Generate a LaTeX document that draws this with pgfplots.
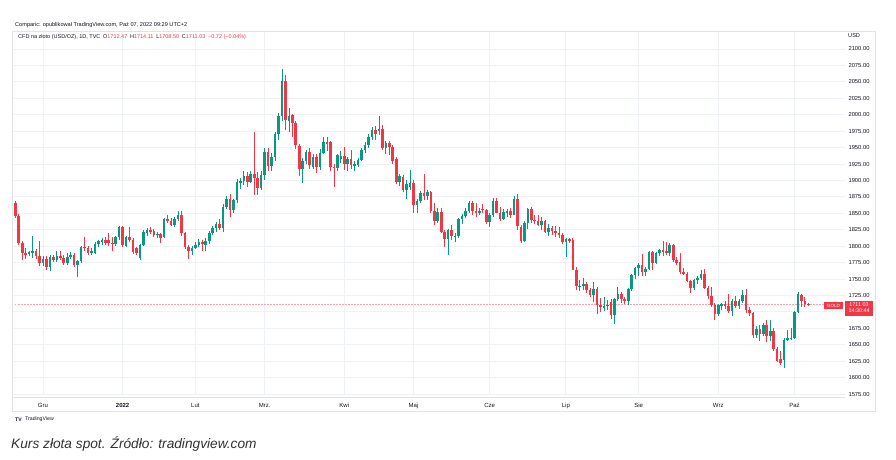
\documentclass[border=0pt]{standalone}
\usepackage{pgfplots}
\pgfplotsset{compat=1.18}
\usepackage{pgfplotstable}
\usepackage{fontspec}
\setmainfont{Liberation Sans}
\definecolor{up}{HTML}{089981}
\definecolor{down}{HTML}{F23645}
\definecolor{ink}{HTML}{131722}
\definecolor{gridc}{HTML}{EEF1F6}
\definecolor{framec}{HTML}{E0E3EB}
\definecolor{capc}{HTML}{333333}

% daily candles, TVC:GOLD, 19.11.2021 - 07.10.2022 (i = trading day)
\pgfplotstableread{
i o h l c
0 1865 1869 1843 1846
1 1846 1849 1802 1805
2 1805 1808 1779 1789
3 1789 1797 1780 1788
4 1788 1793 1785 1791
5 1789 1815 1782 1793
6 1793 1795 1781 1785
7 1785 1808 1770 1775
8 1775 1785 1770 1781
9 1781 1785 1763 1769
10 1768 1786 1762 1784
11 1784 1787 1776 1779
12 1779 1793 1776 1785
13 1785 1792 1779 1782
14 1782 1786 1772 1775
15 1775 1790 1771 1784
16 1783 1791 1780 1787
17 1787 1789 1768 1771
18 1771 1779 1753 1777
19 1777 1800 1775 1798
20 1799 1814 1792 1797
21 1797 1800 1787 1790
22 1790 1797 1786 1792
23 1790 1806 1788 1804
24 1803 1810 1799 1808
25 1807 1812 1802 1810
26 1810 1814 1802 1805
27 1810 1820 1800 1805
28 1805 1814 1792 1804
29 1804 1816 1800 1814
30 1814 1831 1810 1829
31 1829 1831 1798 1801
32 1800 1815 1798 1814
33 1814 1829 1806 1810
34 1810 1812 1788 1791
35 1797 1799 1786 1789
36 1782 1803 1779 1801
37 1801 1824 1800 1822
38 1820 1828 1815 1825
39 1825 1829 1818 1822
40 1823 1826 1814 1817
41 1817 1821 1812 1819
42 1819 1820 1805 1813
43 1814 1843 1812 1841
44 1841 1848 1835 1838
45 1839 1843 1830 1832
46 1832 1845 1829 1842
47 1842 1854 1838 1848
48 1848 1853 1815 1820
49 1820 1822 1795 1799
50 1799 1802 1780 1792
51 1792 1800 1786 1797
52 1797 1807 1795 1801
53 1801 1811 1798 1807
54 1807 1810 1792 1803
55 1802 1812 1792 1808
56 1808 1823 1803 1820
57 1820 1830 1817 1827
58 1827 1836 1822 1834
59 1834 1842 1825 1827
60 1827 1864 1822 1860
61 1860 1876 1856 1872
62 1872 1879 1845 1855
63 1855 1872 1851 1870
64 1870 1902 1866 1898
65 1897 1903 1887 1899
66 1899 1914 1893 1906
67 1906 1913 1890 1898
68 1898 1915 1896 1910
69 1910 1974 1878 1903
70 1903 1913 1878 1889
71 1889 1915 1885 1909
72 1909 1950 1900 1944
73 1944 1950 1915 1922
74 1922 1942 1915 1936
75 1936 1974 1930 1970
76 1970 2002 1962 1998
77 1998 2070 1990 2052
78 2052 2060 1976 1992
79 1990 2010 1973 1998
80 1999 2001 1966 1988
81 1988 1990 1948 1954
82 1953 1956 1906 1918
83 1918 1934 1896 1929
84 1929 1947 1925 1944
85 1944 1949 1918 1924
86 1921 1940 1917 1936
87 1936 1940 1912 1921
88 1921 1948 1916 1942
89 1942 1966 1940 1958
90 1958 1966 1945 1956
91 1958 1960 1915 1921
92 1921 1925 1890 1919
93 1919 1940 1915 1938
94 1933 1945 1927 1937
95 1937 1951 1916 1925
96 1925 1936 1915 1933
97 1933 1946 1917 1923
98 1923 1929 1915 1925
99 1924 1934 1920 1931
100 1931 1949 1929 1946
101 1946 1959 1942 1954
102 1954 1970 1950 1966
103 1966 1982 1962 1977
104 1977 1983 1961 1970
105 1975 1998 1969 1979
106 1979 1984 1946 1950
107 1950 1960 1940 1957
108 1957 1960 1938 1951
109 1951 1954 1925 1929
110 1932 1936 1895 1898
111 1898 1910 1891 1906
112 1905 1908 1882 1886
113 1886 1900 1872 1894
114 1890 1916 1885 1896
115 1896 1900 1850 1863
116 1863 1872 1851 1868
117 1868 1884 1866 1881
118 1881 1910 1870 1877
119 1876 1886 1870 1883
120 1883 1884 1851 1854
121 1854 1866 1832 1838
122 1838 1858 1835 1852
123 1852 1858 1820 1822
124 1822 1824 1798 1811
125 1811 1826 1787 1824
126 1824 1832 1810 1815
127 1815 1820 1807 1816
128 1816 1843 1813 1841
129 1841 1849 1834 1846
130 1846 1858 1843 1854
131 1853 1869 1851 1866
132 1866 1869 1847 1853
133 1853 1866 1845 1851
134 1851 1858 1847 1853
135 1857 1864 1850 1855
136 1855 1857 1834 1837
137 1837 1850 1829 1848
138 1848 1874 1844 1869
139 1869 1874 1850 1851
140 1851 1860 1838 1842
141 1842 1856 1840 1852
142 1852 1857 1845 1853
143 1853 1858 1843 1848
144 1848 1877 1847 1871
145 1871 1879 1825 1830
146 1829 1832 1805 1808
147 1808 1838 1806 1835
148 1835 1858 1826 1857
149 1857 1860 1835 1840
150 1840 1847 1834 1839
151 1839 1847 1830 1832
152 1832 1845 1825 1838
153 1838 1840 1820 1822
154 1822 1833 1816 1827
155 1827 1830 1817 1823
156 1823 1830 1814 1820
157 1820 1829 1812 1817
158 1817 1820 1804 1807
159 1807 1813 1784 1811
160 1811 1813 1805 1809
161 1809 1813 1763 1764
162 1764 1769 1733 1739
163 1739 1748 1732 1740
164 1740 1752 1733 1742
165 1742 1745 1728 1733
166 1733 1736 1723 1725
167 1725 1745 1715 1735
168 1735 1738 1697 1711
169 1710 1721 1700 1707
170 1707 1723 1702 1709
171 1709 1718 1703 1711
172 1715 1719 1689 1696
173 1696 1721 1681 1719
174 1719 1738 1716 1727
175 1727 1730 1714 1719
176 1719 1723 1712 1717
177 1717 1737 1711 1735
178 1735 1758 1732 1756
179 1756 1768 1750 1766
180 1766 1775 1754 1772
181 1772 1788 1754 1760
182 1760 1768 1754 1765
183 1765 1793 1763 1791
184 1791 1792 1764 1775
185 1775 1791 1773 1789
186 1789 1796 1785 1794
187 1794 1808 1785 1792
188 1792 1807 1786 1789
189 1789 1805 1785 1802
190 1802 1803 1776 1779
191 1779 1784 1771 1775
192 1776 1789 1758 1761
193 1761 1767 1756 1758
194 1758 1760 1745 1747
195 1747 1749 1728 1736
196 1736 1750 1733 1748
197 1748 1755 1742 1751
198 1751 1764 1748 1758
199 1758 1765 1735 1737
200 1737 1740 1720 1724
201 1724 1738 1708 1711
202 1711 1713 1688 1697
203 1697 1712 1694 1710
204 1710 1714 1703 1712
205 1712 1716 1705 1709
206 1709 1727 1698 1701
207 1701 1720 1693 1716
208 1716 1724 1706 1709
209 1709 1719 1705 1717
210 1717 1734 1714 1725
211 1725 1735 1698 1703
212 1703 1708 1694 1698
213 1698 1700 1660 1665
214 1665 1679 1660 1674
215 1674 1680 1655 1666
216 1666 1683 1663 1680
217 1680 1688 1654 1664
218 1664 1688 1655 1671
219 1671 1675 1640 1643
220 1643 1646 1624 1626
221 1628 1640 1619 1622
222 1627 1660 1615 1657
223 1658 1673 1655 1660
224 1660 1675 1657 1661
225 1661 1702 1658 1700
226 1700 1731 1698 1727
227 1726 1727 1708 1716
228 1716 1723 1708 1712
229 1712.47 1714.11 1708.50 1711.03
}\gold

\newcommand{\tv}[1]{\fontsize{#1}{#1}\selectfont}

\pgfplotsset{
  candle/.style n args={2}{only marks, mark=*, mark size=0pt,
    mark options={draw=none, fill=none},
    /pgfplots/error bars/y dir=both,
    /pgfplots/error bars/y explicit,
    /pgfplots/error bars/error mark=none,
    /pgfplots/error bars/error bar style={draw=#1, line width=#2}},
}

\begin{document}
\begin{tikzpicture}[x=1pt,y=1pt]
\useasboundingbox (0,0) rectangle (896,-460);
\fill[white] (0,0) rectangle (896,-460);

\begin{axis}[
  at={(12pt,-395pt)}, anchor=south west,
  scale only axis, width=833pt, height=364pt,
  xmin=-0.95, xmax=239.6, ymin=1573.5, ymax=2127.4,
  axis line style={draw=none},
  major tick length=0pt,
  xtick={8,31,52,72,95,115,137,159,180,203,225},
  xticklabels={Gru,\textbf{2022},Lut,Mrz.,Kwi,Maj,Cze,Lip,Sie,Wrz,Paź},
  xticklabel style={font=\tv{6}, text=ink, yshift=-5pt},
  ytick={1575,1600,...,2100},
  yticklabel pos=right,
  yticklabel style={font=\tv{5.8}, text=ink, anchor=west, xshift=0pt,
    /pgf/number format/.cd, fixed, fixed zerofill, precision=2, 1000 sep={}, assume math mode=true},
  grid=major, grid style={gridc, line width=0.8pt},
  clip=false,
]
% current price line
\addplot[down!45, line width=0.5pt, dash pattern=on 1.5pt off 1.5pt] coordinates {(-0.95,1711.03) (233.6,1711.03)};
% wicks
\addplot[restrict expr to domain={\thisrow{c}-\thisrow{o}}{0:1000}, candle={up}{0.7pt}]
  table[x=i, y expr=0.5*(\thisrow{h}+\thisrow{l}), y error expr=0.5*(\thisrow{h}-\thisrow{l})] {\gold};
\addplot[restrict expr to domain={\thisrow{o}-\thisrow{c}}{0.001:1000}, candle={down}{0.7pt}]
  table[x=i, y expr=0.5*(\thisrow{h}+\thisrow{l}), y error expr=0.5*(\thisrow{h}-\thisrow{l})] {\gold};
% bodies
\addplot[restrict expr to domain={\thisrow{c}-\thisrow{o}}{0:1000}, candle={up}{2.6pt}]
  table[x=i, y expr=0.5*(\thisrow{o}+\thisrow{c}), y error expr={max(0.5*abs(\thisrow{o}-\thisrow{c}),0.5)}] {\gold};
\addplot[restrict expr to domain={\thisrow{o}-\thisrow{c}}{0.001:1000}, candle={down}{2.6pt}]
  table[x=i, y expr=0.5*(\thisrow{o}+\thisrow{c}), y error expr={max(0.5*abs(\thisrow{o}-\thisrow{c}),0.5)}] {\gold};
\end{axis}

% frame
\draw[framec, line width=0.8pt] (12,-31) rectangle (875,-411);
\draw[framec, line width=0.8pt] (12,-397) -- (845,-397);

% header texts
\node[anchor=west, inner sep=0, text=ink, font=\tv{5.6}] at (15,-25) {Comparic: opublikował TradingView.com, Paź 07, 2022 09:29 UTC+2};
\node[anchor=west, inner sep=0, text=ink, font=\tv{5.5}] at (18,-37.5)
  {CFD na złoto (USD/OZ), 1D, TVC\enspace O\textcolor{down}{1712.47}\enspace H\textcolor{down}{1714.11}\enspace L\textcolor{down}{1708.50}\enspace C\textcolor{down}{1711.03}\enspace\textcolor{down}{−0.72 (−0.04\%)}};
\node[anchor=west, inner sep=0, text=ink, font=\tv{5.6}] at (848,-36) {USD};

% price labels
\fill[down] (824,-302.3) rectangle (843,-308.7);
\node[text=white, font=\tv{4.6}, inner sep=0] at (833.5,-305.5) {GOLD};
\fill[down] (845,-300.5) rectangle (873,-315.5);
\node[text=white, font=\tv{5.4}, inner sep=0] at (859,-304.3) {1711.03};
\node[text=white, font=\tv{5.4}, inner sep=0] at (859,-311) {14:30:44};

% footer
\node[anchor=west, inner sep=0, text=ink, font=\tv{5.2}\bfseries] at (15,-419.5) {TV};
\node[anchor=west, inner sep=0, text=ink, font=\tv{5.2}] at (25,-419.5) {TradingView};
\node[anchor=west, inner sep=0, text=capc, font=\tv{13.7}\itshape] at (11,-443.5) {Kurs złota spot. Źródło: tradingview.com};
\end{tikzpicture}
\end{document}
